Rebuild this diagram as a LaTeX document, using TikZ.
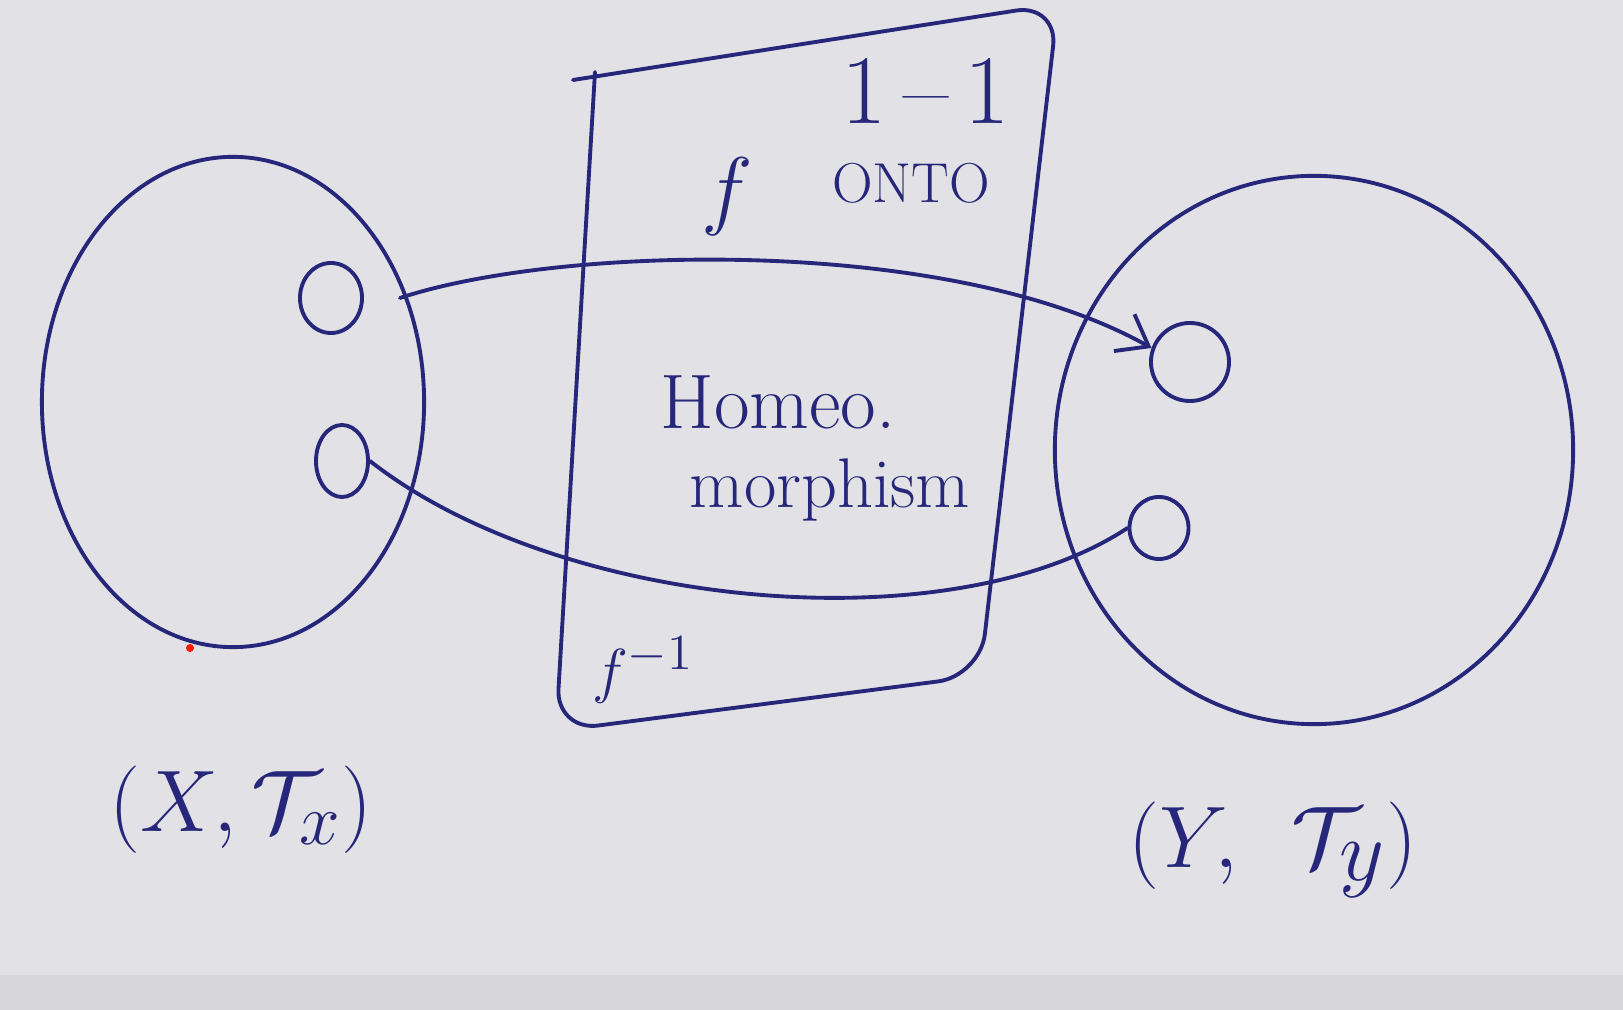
\documentclass[tikz,border=0pt]{standalone}
\usetikzlibrary{shapes.geometric,arrows.meta}
\definecolor{ink}{RGB}{38,38,122}
\definecolor{board}{RGB}{226,226,230}
\tikzset{
  pen/.style={draw=ink, line width=1.1pt, line cap=round, line join=round},
  blob/.style={ellipse, pen, inner sep=0pt},
  hole/.style={ellipse, pen, inner sep=0pt},
  scrawl/.style={text=ink, inner sep=1pt},
}
\newcommand{\hand}[1]{\fontsize{#1}{#1}\selectfont}
\begin{document}
\begin{tikzpicture}[x=0.01cm, y=-0.01cm]
	\useasboundingbox (0,0) rectangle (1623,1010);
	% Whiteboard
	\fill[board] (0,0) rectangle (1623,1010);
	\fill[board!95!black] (0,975) rectangle (1623,1010);
	
	% Left space
	\node[blob, minimum width=3.82cm, minimum height=4.9cm] (spaceX) at (233,402) {};
	\node[hole, minimum width=0.62cm, minimum height=0.7cm] (openX1) at (331,298) {};
	\node[hole, minimum width=0.52cm, minimum height=0.72cm] (openX2) at (342,461) {};
	\node[scrawl, font=\hand{31}] (labelX) at (241,810) {$(X,\mathcal{T}_x)$};
	\fill[red!80!orange] (190,648) circle (4);
	
	% Right space
	\node[blob, minimum width=5.18cm, minimum height=5.48cm] (spaceY) at (1314,450) {};
	\node[hole, minimum width=0.78cm, minimum height=0.78cm] (openY1) at (1190,362) {};
	\node[hole, minimum width=0.59cm, minimum height=0.62cm] (openY2) at (1159,528) {};
	\node[scrawl, font=\hand{37}] (labelY) at (1273,850) {$(Y,\ \mathcal{T}_y)$};
	
	% The map, drawn as a sheet
	\draw[pen, rounded corners=12] (573,80) -- (1058,4) -- (980,676) -- (556,731) -- (595,72);
	\node[scrawl, font=\hand{28}] (oneone) at (926,91) {1\,--\,1};
	\node[scrawl, font=\hand{28}] (fmap) at (727,197) {$f$};
	\node[scrawl, font=\hand{16}] (onto) at (911,183) {ONTO};
	\node[scrawl, font=\hand{22}] (homeo) at (778,402) {Homeo.};
	\node[scrawl, font=\hand{20}] (morph) at (830,490) {morphism};
	\node[scrawl, font=\hand{19}] (finv) at (643,670) {$f^{-1}$};
	
	% Open sets carried across
	\draw[pen, -{Straight Barb[length=8pt, width=12pt]}] ([xshift=0.36cm]openX1.east) .. controls (560,245) and (950,235) .. (openY1.160);
	\draw[pen] (openX2.east) .. controls (560,610) and (950,645) .. (openY2.west);
\end{tikzpicture}
\end{document}
